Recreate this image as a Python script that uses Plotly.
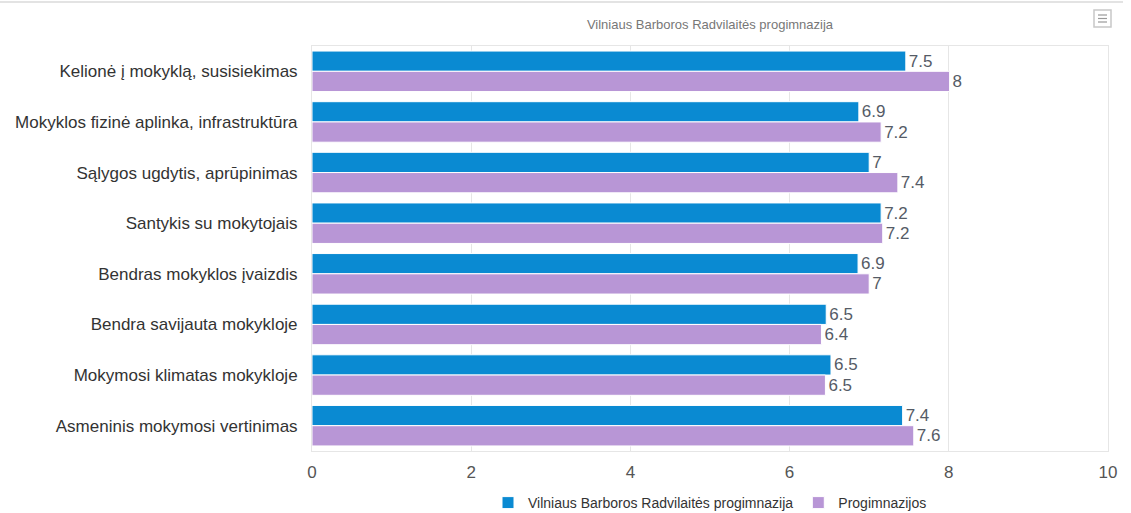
import plotly.graph_objects as go

categories = [
    "Kelionė į mokyklą, susisiekimas",
    "Mokyklos fizinė aplinka, infrastruktūra",
    "Sąlygos ugdytis, aprūpinimas",
    "Santykis su mokytojais",
    "Bendras mokyklos įvaizdis",
    "Bendra savijauta mokykloje",
    "Mokymosi klimatas mokykloje",
    "Asmeninis mokymosi vertinimas",
]
school_name = "Vilniaus Barboros Radvilaitės progimnazija"
school_values = [7.46, 6.87, 7.0, 7.15, 6.86, 6.46, 6.52, 7.42]
group_name = "Progimnazijos"
group_values = [8.01, 7.15, 7.36, 7.17, 7.0, 6.4, 6.45, 7.56]
x_ticks = [0, 2, 4, 6, 8, 10]


def fmt(v):
    s = f"{v + 1e-9:.1f}"
    return s[:-2] if s.endswith(".0") else s


FONT = "Liberation Sans, Arial, sans-serif"
W, H = 1131, 513
L, R, T, B = 312, 23, 46, 62
PW, PH = W - L - R, H - T - B


def px(x):
    return (x - L) / PW


def py(y):
    return 1 - (y - T) / PH


fig = go.Figure()
fig.add_trace(go.Bar(
    y=categories, x=school_values, name=school_name, orientation="h",
    marker=dict(color="#0a8ad2", line=dict(color="#ffffff", width=1)),
    text=[fmt(v) for v in school_values], textposition="outside",
    textfont=dict(family=FONT, size=17, color="#555b66"), cliponaxis=False,
    hoverinfo="x+name",
))
fig.add_trace(go.Bar(
    y=categories, x=group_values, name=group_name, orientation="h",
    marker=dict(color="#b896d6", line=dict(color="#ffffff", width=1)),
    text=[fmt(v) for v in group_values], textposition="outside",
    textfont=dict(family=FONT, size=17, color="#555b66"), cliponaxis=False,
    hoverinfo="x+name",
))

fig.update_layout(
    width=W, height=H,
    barmode="group", bargap=0.2, bargroupgap=0,
    margin=dict(l=L, r=R, t=T, b=B, autoexpand=False),
    paper_bgcolor="white", plot_bgcolor="white",
    font=dict(family=FONT, color="#333333"),
    title=dict(text=school_name, x=0.5, xref="paper", xanchor="center",
               y=1 - 24 / H, yref="container", yanchor="middle",
               font=dict(family=FONT, size=13, color="#777777")),
    showlegend=True,
    legend=dict(orientation="h", x=0.5, xanchor="center", xref="paper",
                y=10 / H, yanchor="middle", yref="container",
                font=dict(family=FONT, size=14, color="#333333"),
                itemwidth=30, traceorder="normal"),
    xaxis=dict(range=[0, 10], tickvals=x_ticks, showgrid=True, gridcolor="#e6e6e6",
               zeroline=False, showline=True, linecolor="#e6e6e6", mirror=True,
               tickfont=dict(family=FONT, size=17, color="#555555"), ticks="",
               ticklabelstandoff=6, automargin=False),
    yaxis=dict(autorange="reversed", showgrid=False, showline=True, linecolor="#e6e6e6",
               mirror=True, ticks="", ticklabelstandoff=10, automargin=False,
               tickfont=dict(family=FONT, size=17, color="#333333")),
    shapes=[
        dict(type="line", xref="paper", yref="paper", x0=px(0), x1=px(1123),
             y0=py(2), y1=py(2), line=dict(color="#e3e3e3", width=2)),
        dict(type="rect", xref="paper", yref="paper",
             x0=px(1094), x1=px(1111), y0=py(27), y1=py(10),
             line=dict(color="#c8c8c8", width=1.5), fillcolor="white"),
    ] + [
        dict(type="line", xref="paper", yref="paper",
             x0=px(1098), x1=px(1107), y0=py(yy), y1=py(yy),
             line=dict(color="#999999", width=1.2))
        for yy in (15, 18.5, 22)
    ],
)

fig.write_html("out.html", config={"displayModeBar": False},
               post_script="document.body.style.margin='0px';")
